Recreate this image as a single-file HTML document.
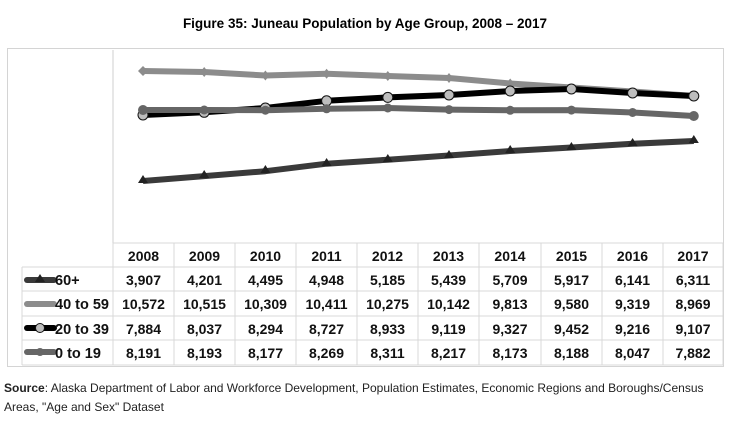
<!DOCTYPE html>
<html><head><meta charset="utf-8"><style>
body{margin:0;background:#fff;width:730px;height:428px;overflow:hidden;font-family:"Liberation Sans",sans-serif}
</style></head><body>
<svg width="730" height="428" xmlns="http://www.w3.org/2000/svg" font-family="Liberation Sans, sans-serif">
<text x="365" y="28" text-anchor="middle" font-size="13.5" font-weight="bold" fill="#000">Figure 35: Juneau Population by Age Group, 2008 – 2017</text>
<rect x="7.5" y="48.5" width="716" height="318" fill="none" stroke="#d4d4d4"/>
<line x1="113" y1="50" x2="113" y2="243" stroke="#cfcfcf"/>
<g stroke="#d9d9d9" fill="none">
<line x1="113" y1="243" x2="723" y2="243"/>
<line x1="22" y1="267" x2="723" y2="267"/>
<line x1="22" y1="291" x2="723" y2="291"/>
<line x1="22" y1="316" x2="723" y2="316"/>
<line x1="22" y1="340" x2="723" y2="340"/>
<line x1="22" y1="365" x2="723" y2="365"/>
<line x1="22" y1="267" x2="22" y2="365"/>
<line x1="113" y1="243" x2="113" y2="365"/>
<line x1="174" y1="243" x2="174" y2="365"/>
<line x1="235" y1="243" x2="235" y2="365"/>
<line x1="296" y1="243" x2="296" y2="365"/>
<line x1="357" y1="243" x2="357" y2="365"/>
<line x1="418" y1="243" x2="418" y2="365"/>
<line x1="479" y1="243" x2="479" y2="365"/>
<line x1="541" y1="243" x2="541" y2="365"/>
<line x1="602" y1="243" x2="602" y2="365"/>
<line x1="663" y1="243" x2="663" y2="365"/>
<line x1="723" y1="243" x2="723" y2="365"/>
</g>
<!-- 60+ -->
<polyline fill="none" stroke="#3a3a3a" stroke-width="6" stroke-linejoin="round" points="143,181 204.2,176.1 265.4,171.2 326.6,163.7 387.8,159.7 449,155.5 510.2,151 571.4,147.5 632.6,143.8 693.8,141"/>
<g fill="#222">
<path d="M143,175 l5,8 h-10z"/><path d="M204.2,170 l5,8 h-10z"/><path d="M265.4,165 l5,8 h-10z"/><path d="M326.6,158 l5,8 h-10z"/><path d="M387.8,154 l5,8 h-10z"/><path d="M449,150 l5,8 h-10z"/><path d="M510.2,145 l5,8 h-10z"/><path d="M571.4,142 l5,8 h-10z"/><path d="M632.6,138 l5,8 h-10z"/><path d="M693.8,135 l5,8 h-10z"/>
</g>
<!-- 40-59 -->
<polyline fill="none" stroke="#8c8c8c" stroke-width="6" stroke-linejoin="round" points="143,71 204.2,72 265.4,75.5 326.6,73.8 387.8,76 449,78 510.2,83.5 571.4,87.5 632.6,91.5 693.8,96"/>
<g fill="#8c8c8c">
<path d="M143,66 l5,5 l-5,5 l-5,-5z"/><path d="M204.2,67 l4,5 l-4,5 l-4,-5z"/><path d="M265.4,70.5 l4,5 l-4,5 l-4,-5z"/><path d="M326.6,68.8 l4,5 l-4,5 l-4,-5z"/><path d="M387.8,71 l4,5 l-4,5 l-4,-5z"/><path d="M449,73 l4,5 l-4,5 l-4,-5z"/><path d="M510.2,78.5 l4,5 l-4,5 l-4,-5z"/>
</g>
<!-- 20-39 -->
<polyline fill="none" stroke="#000" stroke-width="6" stroke-linejoin="round" points="143,115 204.2,112.3 265.4,108 326.6,100.8 387.8,97.4 449,95 510.2,91 571.4,89 632.6,93 693.8,96"/>
<g fill="#bdbdbd" stroke="#111" stroke-width="1">
<circle cx="143" cy="115" r="5"/><circle cx="204.2" cy="112.3" r="5"/><circle cx="265.4" cy="108" r="5"/><circle cx="326.6" cy="100.8" r="5"/><circle cx="387.8" cy="97.4" r="5"/><circle cx="449" cy="95" r="5"/><circle cx="510.2" cy="91" r="5"/><circle cx="571.4" cy="89" r="5"/><circle cx="632.6" cy="93" r="5"/><circle cx="693.8" cy="96" r="5"/>
</g>
<!-- 0-19 -->
<polyline fill="none" stroke="#666" stroke-width="6" stroke-linejoin="round" points="143,110 204.2,110 265.4,110.2 326.6,108.8 387.8,108 449,109.6 510.2,110.3 571.4,110.1 632.6,112.5 693.8,116"/>
<g fill="#666">
<circle cx="143" cy="110" r="5"/><circle cx="204.2" cy="110" r="4.5"/><circle cx="265.4" cy="110.2" r="4.5"/><circle cx="326.6" cy="108.8" r="4.5"/><circle cx="387.8" cy="108" r="4.5"/><circle cx="449" cy="109.6" r="4.5"/><circle cx="510.2" cy="110.3" r="4.5"/><circle cx="571.4" cy="110.1" r="4.5"/><circle cx="632.6" cy="112.5" r="4.5"/><circle cx="693.8" cy="116" r="5"/>
</g>
<g font-size="14" font-weight="bold" fill="#111" text-anchor="middle">
<text x="143.5" y="261">2008</text><text x="204.5" y="261">2009</text><text x="265.5" y="261">2010</text><text x="326.5" y="261">2011</text><text x="387.5" y="261">2012</text><text x="448.5" y="261">2013</text><text x="510" y="261">2014</text><text x="571.5" y="261">2015</text><text x="632.5" y="261">2016</text><text x="693" y="261">2017</text>
<text x="143.5" y="285">3,907</text><text x="204.5" y="285">4,201</text><text x="265.5" y="285">4,495</text><text x="326.5" y="285">4,948</text><text x="387.5" y="285">5,185</text><text x="448.5" y="285">5,439</text><text x="510" y="285">5,709</text><text x="571.5" y="285">5,917</text><text x="632.5" y="285">6,141</text><text x="693" y="285">6,311</text>
<text x="143.5" y="309">10,572</text><text x="204.5" y="309">10,515</text><text x="265.5" y="309">10,309</text><text x="326.5" y="309">10,411</text><text x="387.5" y="309">10,275</text><text x="448.5" y="309">10,142</text><text x="510" y="309">9,813</text><text x="571.5" y="309">9,580</text><text x="632.5" y="309">9,319</text><text x="693" y="309">8,969</text>
<text x="143.5" y="334">7,884</text><text x="204.5" y="334">8,037</text><text x="265.5" y="334">8,294</text><text x="326.5" y="334">8,727</text><text x="387.5" y="334">8,933</text><text x="448.5" y="334">9,119</text><text x="510" y="334">9,327</text><text x="571.5" y="334">9,452</text><text x="632.5" y="334">9,216</text><text x="693" y="334">9,107</text>
<text x="143.5" y="358">8,191</text><text x="204.5" y="358">8,193</text><text x="265.5" y="358">8,177</text><text x="326.5" y="358">8,269</text><text x="387.5" y="358">8,311</text><text x="448.5" y="358">8,217</text><text x="510" y="358">8,173</text><text x="571.5" y="358">8,188</text><text x="632.5" y="358">8,047</text><text x="693" y="358">7,882</text>
</g>
<!-- legend keys -->
<line x1="27" y1="280" x2="54" y2="280" stroke="#3a3a3a" stroke-width="6" stroke-linecap="round"/><path d="M40,274 l5,8 h-10z" fill="#222"/>
<line x1="27" y1="304" x2="54" y2="304" stroke="#8c8c8c" stroke-width="6" stroke-linecap="round"/>
<line x1="27" y1="328" x2="54" y2="328" stroke="#000" stroke-width="6" stroke-linecap="round"/><circle cx="40" cy="328" r="4.5" fill="#bdbdbd" stroke="#111"/>
<line x1="27" y1="352" x2="54" y2="352" stroke="#666" stroke-width="6" stroke-linecap="round"/><circle cx="40" cy="352" r="4" fill="#666"/>
<g font-size="14.5" font-weight="bold" fill="#111">
<text x="55" y="285">60+</text><text x="55" y="309">40 to 59</text><text x="55" y="334">20 to 39</text><text x="55" y="358">0 to 19</text>
</g>
<text x="4" y="392" font-size="12" fill="#222"><tspan font-weight="bold">Source</tspan>: Alaska Department of Labor and Workforce Development, Population Estimates, Economic Regions and Boroughs/Census</text>
<text x="4" y="411" font-size="12" fill="#222">Areas, "Age and Sex" Dataset</text>
</svg>
</body></html>
